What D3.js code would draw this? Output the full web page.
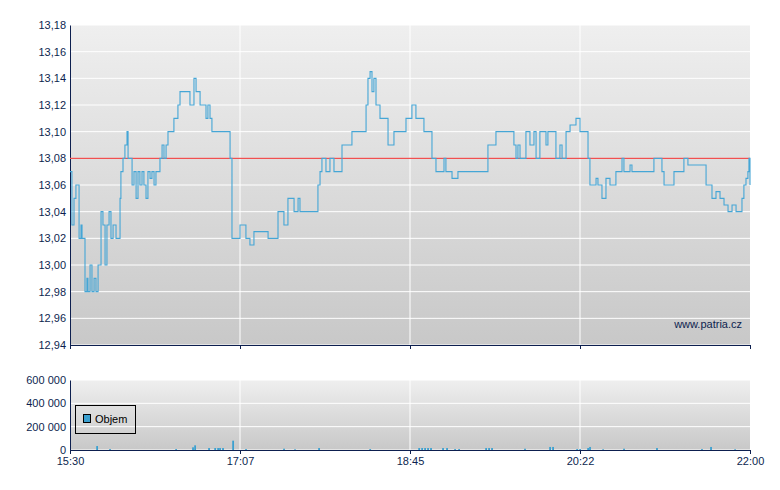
<!DOCTYPE html><html><head><meta charset="utf-8"><script src="https://cdn.jsdelivr.net/npm/d3@7"></script>
<style>body{margin:0;background:#fff}text{font-family:"Liberation Sans",Arial,sans-serif}</style></head><body><svg id="c" width="780" height="490"></svg><script>
const xTickLabels=["15:30","17:07","18:45","20:22","22:00"];
const xTickMinutes=[0,97.5,195,292.5,390];
const yTicks=[12.94,12.96,12.98,13.00,13.02,13.04,13.06,13.08,13.10,13.12,13.14,13.16,13.18];
const volTicks=[0,200000,400000,600000];
const refPrice=13.08;
const priceMinutes=[0,1.1,2.3,3.4,4.6,5.2,6.3,6.9,8.0,8.6,9.7,10.3,11.5,12.6,13.8,14.9,16.1,17.2,17.8,18.9,20.1,21.2,22.4,23.5,24.7,25.8,26.4,27.5,28.7,29.2,30.4,31.5,32.7,33.3,34.4,35.6,36.7,37.9,39.0,40.1,41.3,42.4,43.6,44.7,45.9,47.0,48.2,49.3,50.5,51.6,52.8,53.9,55.1,56.2,57.4,58.5,59.6,60.8,61.9,63.1,67.7,68.8,70.0,71.1,72.3,73.4,74.6,76.8,78.0,79.1,80.3,81.4,83.7,90.6,91.8,92.9,94.6,97.5,99.2,100.9,103.2,105.5,111.8,113.6,118.1,119.3,121.6,122.7,125.0,127.3,128.5,130.8,131.9,137.6,141.1,142.2,143.4,144.5,145.7,146.8,149.1,151.4,154.8,156.0,160.6,161.7,166.3,168.6,169.8,170.9,172.1,173.2,174.3,175.5,177.8,180.1,182.4,184.7,185.8,188.1,190.4,192.7,195.0,196.1,197.3,198.4,200.7,203.0,205.3,207.6,209.9,212.2,214.5,215.6,217.9,219.1,221.4,222.5,224.8,232.8,238.6,239.7,242.0,244.3,253.5,254.6,255.8,256.9,258.1,260.4,261.5,263.8,266.1,267.3,269.5,273.0,274.1,276.4,278.7,281.0,282.2,284.5,286.8,289.0,290.2,292.5,294.8,297.1,298.2,300.5,301.7,302.8,305.1,306.2,307.4,309.7,313.1,315.4,316.6,317.7,320.0,321.2,322.3,324.6,326.9,332.6,334.9,338.4,339.5,340.7,343.0,346.4,349.8,352.1,354.4,361.3,364.8,367.0,368.2,370.5,372.8,375.1,377.4,379.7,382.0,384.3,385.4,386.5,387.7,388.8,389.4,390];
const priceValues=[13.07,13.03,13.05,13.06,13.06,13.02,13.03,13.02,13.02,12.98,12.99,12.98,13.00,12.98,12.99,12.98,13.00,13.00,13.04,13.03,13.00,13.03,13.04,13.02,13.03,13.03,13.02,13.02,13.05,13.07,13.08,13.09,13.10,13.08,13.08,13.06,13.07,13.05,13.07,13.06,13.07,13.06,13.05,13.07,13.065,13.07,13.06,13.07,13.07,13.08,13.09,13.08,13.09,13.10,13.10,13.10,13.11,13.11,13.12,13.13,13.13,13.12,13.12,13.14,13.13,13.13,13.12,13.12,13.11,13.12,13.11,13.10,13.10,13.10,13.08,13.02,13.02,13.03,13.03,13.02,13.015,13.025,13.025,13.02,13.02,13.04,13.04,13.03,13.05,13.05,13.04,13.05,13.04,13.04,13.04,13.06,13.07,13.08,13.08,13.07,13.08,13.07,13.07,13.09,13.09,13.10,13.10,13.10,13.12,13.14,13.145,13.13,13.14,13.12,13.11,13.11,13.09,13.09,13.10,13.10,13.10,13.11,13.11,13.12,13.12,13.11,13.11,13.10,13.10,13.08,13.07,13.07,13.08,13.07,13.07,13.065,13.065,13.07,13.07,13.07,13.07,13.09,13.09,13.10,13.10,13.09,13.08,13.09,13.08,13.08,13.10,13.09,13.10,13.08,13.10,13.09,13.10,13.10,13.08,13.09,13.08,13.10,13.105,13.105,13.11,13.10,13.10,13.08,13.06,13.06,13.065,13.06,13.05,13.05,13.065,13.06,13.07,13.07,13.08,13.07,13.07,13.075,13.07,13.07,13.07,13.07,13.08,13.08,13.07,13.06,13.06,13.07,13.07,13.08,13.075,13.075,13.06,13.06,13.05,13.055,13.05,13.045,13.04,13.045,13.04,13.04,13.05,13.06,13.065,13.07,13.08,13.06];
const volMinutes=[15.5,22.9,60.8,70.5,71.7,79.7,83.2,84.9,86.0,87.7,93.5,100.9,122.7,129.0,142.8,172.1,200.2,201.9,203.6,205.3,207.0,213.9,216.2,220.8,223.1,238.6,240.3,242.0,260.9,275.3,277.0,290.8,292.5,297.1,298.2,305.7,317.7,336.6,362.4,367.6,381.4];
const volValues=[34000,8000,8000,23000,40000,17000,17000,17000,17000,17000,80000,8000,11000,6000,17000,8000,17000,17000,17000,17000,17000,17000,17000,8000,8000,17000,17000,17000,11000,26000,26000,8000,8000,17000,26000,6000,11000,17000,8000,26000,6000];

const svg=d3.select("#c"), ink="#0d1f4f";
const x=d3.scaleLinear().domain([0,390]).range([70,750]);
const y=d3.scaleLinear().domain([12.94,13.18]).range([345,25]);
const yv=d3.scaleLinear().domain([0,600000]).range([450,380]);
const defs=svg.append("defs");
const g1=defs.append("linearGradient").attr("id","bg").attr("x1",0).attr("x2",0).attr("y1",0).attr("y2",1);
g1.append("stop").attr("offset",0).attr("stop-color","#efefef");
g1.append("stop").attr("offset",1).attr("stop-color","#c8c8c8");
function panel(top,bot,sc,ticks,fmt){
  svg.append("rect").attr("x",70).attr("y",top).attr("width",680).attr("height",bot-top).attr("fill","url(#bg)");
  svg.append("g").selectAll("line").data(ticks).join("line").attr("x1",70).attr("x2",750).attr("y1",d=>sc(d)).attr("y2",d=>sc(d)).attr("stroke","#fff");
  svg.append("g").selectAll("line").data(xTickMinutes.slice(1,4)).join("line").attr("x1",d=>x(d)).attr("x2",d=>x(d)).attr("y1",top).attr("y2",bot).attr("stroke","#fff");
  const ax=svg.append("g").attr("transform","translate(70,0)").call(d3.axisLeft(sc).tickValues(ticks).tickFormat(fmt).tickSize(0).tickPadding(4));
  ax.select(".domain").attr("stroke",ink);
  ax.selectAll("text").attr("fill",ink).attr("font-size",11);
  const bx=svg.append("g").attr("transform",`translate(0,${bot})`).call(d3.axisBottom(x).tickValues(xTickMinutes).tickFormat((d,i)=>xTickLabels[i]).tickSize(4).tickSizeOuter(0));
  bx.select(".domain").attr("stroke",ink);bx.selectAll("line").attr("stroke",ink);
  return bx;
}
const b1=panel(25,345,y,yTicks,d=>d3.format(".2f")(d).replace(".",","));
b1.selectAll("text").remove();
const b2=panel(380,450,yv,volTicks,d=>d3.format(",")(d).replace(/,/g," "));
b2.selectAll("text").attr("fill",ink).attr("font-size",11);
svg.append("line").attr("x1",70).attr("x2",750).attr("y1",y(refPrice)).attr("y2",y(refPrice)).attr("stroke","#f05050").attr("stroke-width",1.2);
const pts=priceMinutes.map((m,i)=>[m,priceValues[i]]);
svg.append("path").datum(pts).attr("fill","none").attr("stroke","#45a6d6").attr("stroke-width",1.1)
 .attr("d",d3.line().curve(d3.curveStepAfter).x(d=>x(d[0])).y(d=>y(d[1])));
svg.append("g").selectAll("rect").data(volMinutes).join("rect").attr("x",d=>x(d)-0.8).attr("width",1.8)
 .attr("y",(d,i)=>yv(volValues[i])).attr("height",(d,i)=>450-yv(volValues[i])).attr("fill","#3ba0d0");
svg.append("text").attr("x",742).attr("y",328).attr("text-anchor","end").attr("font-size",11).attr("fill",ink).text("www.patria.cz");
svg.append("rect").attr("x",75.5).attr("y",405.5).attr("width",60).attr("height",28).attr("fill","none").attr("stroke","#000");
svg.append("rect").attr("x",83.5).attr("y",414.5).attr("width",7).attr("height",8).attr("fill","#3ba0d0").attr("stroke","#000");
svg.append("text").attr("x",95).attr("y",423).attr("font-size",11).attr("fill","#000").text("Objem");
</script></body></html>
